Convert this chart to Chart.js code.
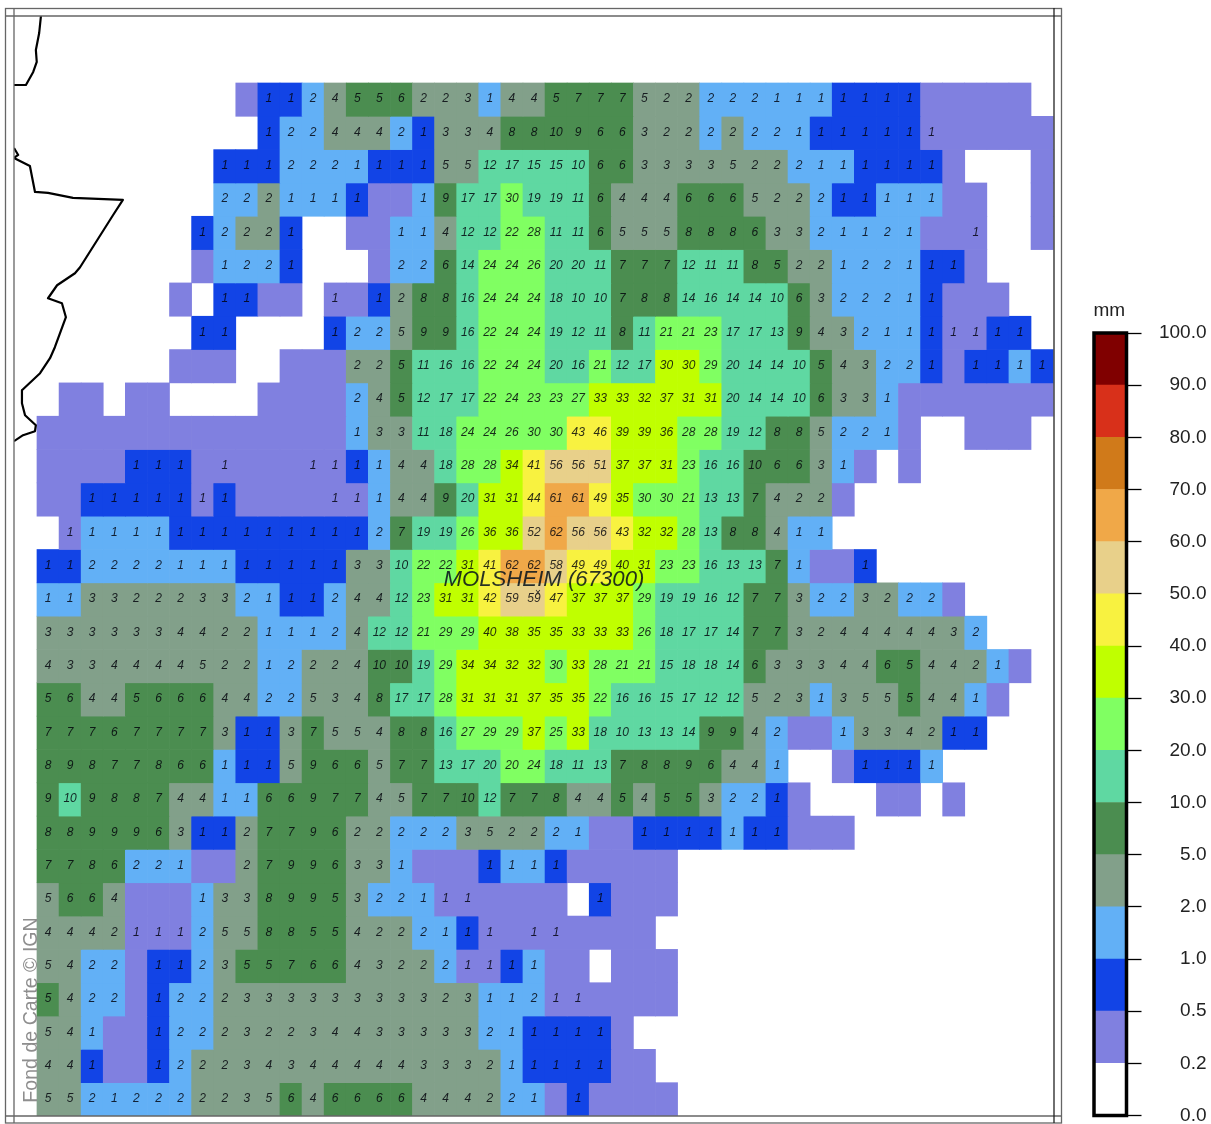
<!DOCTYPE html>
<html><head><meta charset="utf-8">
<style>
html,body{margin:0;padding:0;background:#fff;overflow:hidden}
canvas{position:absolute;top:0;display:block}
</style>
<script src="https://cdn.jsdelivr.net/npm/chart.js@4"></script>
</head><body>
<canvas id="map" width="1211" height="1124" style="left:0"></canvas>
<canvas id="bar" width="151" height="1124" style="left:1060px"></canvas>
<script>
const _ = null;
const legendLabels = ['0.0','0.2','0.5','1.0','2.0','5.0','10.0','20.0','30.0','40.0','50.0','60.0','70.0','80.0','90.0','100.0'];
const thresholds = [0,0.2,0.5,1,2,5,10,20,30,40,50,60,70,80,90,100];
const levelColors = ['#ffffff','#8080e0','#1244e6','#62b0f6','#82a08a','#4b8d50','#5fd8a2','#80ff62','#c0ff00','#f8f240','#e8d08a','#f0a848','#d07a1a','#d8301a','#800000'];

const r00=[_,_,_,_,_,_,_,_,_,.3,.8,.8,1.8,4,5.3,5.3,6,2.4,2.4,3,1.3,4,4,5.3,7,7,7,4.7,2.4,2.4,1.8,1.8,1.8,1.3,1.3,1.3,.8,.8,.8,.8,.3,.3,.3,.3,.3];
const r01=[_,_,_,_,_,_,_,_,_,_,.8,1.8,1.8,4,4,4,1.8,.8,3,3,4,8,8,9.7,9,6,6,3,2.4,2.4,1.8,2.4,1.8,1.8,1.3,.8,.8,.8,.8,.8,.5,.3,.3,.3,.3,.3];
const r02=[_,_,_,_,_,_,_,_,.8,.8,.8,1.8,1.8,1.8,1.3,.8,.8,.8,4.7,4.7,12,17,15,15,10.4,6,6,3,3,3,3,4.7,2.4,2.4,1.8,1.3,1.3,.8,.8,.8,.8,.3,_,_,_,.3];
const r03=[_,_,_,_,_,_,_,_,1.8,1.8,2.4,1.3,1.3,1.3,.8,.3,.3,1.3,9,17,17,29.6,19,19,11,6,4,4,4,6,6,6,4.7,2.4,2.4,1.8,.8,.8,1.3,1.3,1.3,.3,.3,_,_,.3];
const r04=[_,_,_,_,_,_,_,.8,1.8,2.4,2.4,.8,_,_,.3,.3,1.3,1.3,4,12,12,22,28,11,11,6,4.7,4.7,4.7,8,8,8,6,3,3,1.8,1.3,1.3,1.8,1.3,.3,.3,.5,_,_,.3];
const r05=[_,_,_,_,_,_,_,.3,1.3,1.8,1.8,.8,_,_,_,.3,1.8,1.8,6,14,24,24,26,19.6,19.6,11,7,7,7,12,11,11,8,5.3,2.4,2.4,1.3,1.8,1.8,1.3,.8,.8,.3];
const r06=[_,_,_,_,_,_,.3,_,.8,.8,.3,.3,_,.5,.3,.8,2.4,8,8,16,24,24,24,18,10.4,10.4,7,8,8,14,16,14,14,10.4,6,3,1.8,1.8,1.8,1.3,.8,.3,.3,.3];
const r07=[_,_,_,_,_,_,_,.8,.8,_,_,_,_,.8,1.8,1.8,4.7,9,9,16,22,24,24,19,12,11,8,11,21,21,23,17,17,13,9,4,3,1.8,1.3,1.3,.8,.5,.5,.8,.8];
const r08=[_,_,_,_,_,_,.3,.3,.3,_,_,.3,.3,.3,2.4,2.4,5.3,11,16,16,22,24,24,19.6,16,21,12,17,30.4,30.4,29,19.6,14,14,10.4,5.3,4,3,1.8,1.8,.8,.3,.8,.8,1.3,.8];
const r09=[_,.3,.3,_,.3,.3,_,_,_,_,.3,.3,.3,.3,1.8,4,5.3,12,17,17,22,24,23,23,27,33,33,32,37,31,31,19.6,14,14,10.4,6,3,3,1.3,.3,.3,.3,.3,.3,.3,.3];
const r10=[.3,.3,.3,.3,.3,.3,.3,.3,.3,.3,.3,.3,.3,.3,1.3,3,3,11,18,24,24,26,29.6,29.6,43,46,39,39,36,28,28,19,12,8,8,4.7,1.8,1.8,1.3,.3,_,_,.3,.3,.3];
const r11=[.3,.3,.3,.3,.8,.8,.8,.3,.5,.3,.3,.3,.5,.5,.8,1.3,4,4,18,28,28,34,41,56,56,51,37,37,31,23,16,16,9.7,6,6,3,1.3,.3,_,.3];
const r12=[.3,.3,.8,.8,.8,.8,.8,.5,.8,.3,.3,.3,.3,.5,.5,1.3,4,4,9,19.6,31,31,44,61,61,49,35,29.6,29.6,21,13,13,7,4,2.4,2.4,.3];
const r13=[_,.5,1.3,1.3,1.3,1.3,.8,.8,.8,.8,.8,.8,.8,.8,.8,1.8,7,19,19,26,36,36,52,62,56,56,43,32,32,28,13,8,8,4,1.3,1.3];
const r14=[.8,.8,1.8,1.8,1.8,1.8,1.3,1.3,1.3,.8,.8,.8,.8,.8,3,3,10.4,22,22,31,41,62,62,58,49,49,39.6,31,23,23,16,13,13,7,1.3,.3,.3,.8];
const r15=[1.3,1.3,3,3,2.4,2.4,2.4,3,3,1.8,1.3,.8,.8,1.8,4,4,12,23,31,31,42,59,59,47,37,37,37,29,19,19,16,12,7,7,3,1.8,1.8,3,2.4,1.8,1.8,.3];
const r16=[3,3,3,3,3,3,4,4,2.4,2.4,1.3,1.3,1.3,1.8,4,12,12,21,29,29,39.6,38,35,35,33,33,33,26,18,17,17,14,7,7,3,2.4,4,4,4,4,4,3,1.8];
const r17=[4,3,3,4,4,4,4,4.7,2.4,2.4,1.3,1.8,2.4,2.4,4,9.7,9.7,19,29,34,34,32,32,29.6,33,28,21,21,15,18,18,14,6,3,3,3,4,4,6,5.3,4,4,2.4,1.3,.3];
const r18=[5.3,6,4,4,5.3,6,6,6,4,4,1.8,1.8,4.7,3,4,8,17,17,28,31,31,31,37,35,35,22,16,16,15,17,12,12,4.7,2.4,3,1.3,3,4.7,4.7,5.3,4,4,1.3,.3];
const r19=[7,7,7,6,7,7,7,7,3,.8,.8,3,7,4.7,4.7,4,8,8,16,27,29,29,37,25,33,18,10.4,13,13,14,9,9,4,1.8,.3,.3,1.3,3,3,4,2.4,.8,.8];
const r20=[8,9,8,7,7,8,6,6,1.3,.8,.8,4.7,9,6,6,4.7,7,7,13,17,19.6,20.4,24,18,11,13,7,8,8,9,6,4,4,1.3,_,_,.3,.8,.8,.8,1.3];
const r21=[9,10.4,9,8,8,7,4,4,1.3,1.3,6,6,9,7,7,4,4.7,7,7,9.7,12,7,7,8,4,4,5.3,4,5.3,5.3,3,1.8,1.8,.8,.3,_,_,_,.3,.3,_,.3];
const r22=[8,8,9,9,9,6,3,.8,.8,2.4,7,7,9,6,2.4,2.4,1.8,1.8,1.8,3,4.7,2.4,2.4,1.8,1.3,.3,.3,.8,.8,.8,.8,1.3,.8,.8,.3,.3,.3];
const r23=[7,7,8,6,1.8,1.8,1.3,.3,.3,2.4,7,9,9,6,3,3,1.3,.3,.3,.3,.8,1.3,1.3,.8,.3,.3,.3,.3,.3];
const r24=[4.7,6,6,4,.3,.3,.3,1.3,3,3,8,9,9,5.3,3,1.8,1.8,1.3,.5,.5,.3,.3,.3,.3,_,.8,.3,.3,.3];
const r25=[4,4,4,2.4,.5,.5,.5,1.8,4.7,4.7,8,8,5.3,5.3,4,2.4,2.4,1.8,1.3,.8,.5,.3,.5,.5,.3,.3,.3,.3];
const r26=[4.7,4,1.8,1.8,.3,.8,.8,1.8,3,5.3,5.3,7,6,6,4,3,2.4,2.4,1.8,.5,.5,.8,1.3,.3,.3,_,.3,.3,.3];
const r27=[5.3,4,1.8,1.8,.3,.8,1.8,1.8,2.4,3,3,3,3,3,3,3,3,3,2.4,3,1.3,1.3,1.8,.5,.5,.3,.3,.3,.3];
const r28=[4.7,4,1.3,.3,.3,.8,1.8,1.8,2.4,3,2.4,2.4,3,4,4,3,3,3,3,3,1.8,1.3,.8,.8,.8,.8,.3];
const r29=[4,4,.8,.3,.3,.8,1.8,2.4,2.4,3,4,3,4,4,4,4,4,3,3,3,2.4,1.3,.8,.8,.8,.8,.3,.3];
const r30=[4.7,4.7,1.8,1.3,1.8,1.8,1.8,2.4,2.4,3,4.7,6,4,6,6,6,6,4,4,4,2.4,1.8,1.3,.3,.8,.3,.3,.3,.3];
const rows=[r00,r01,r02,r03,r04,r05,r06,r07,r08,r09,r10,r11,r12,r13,r14,r15,r16,r17,r18,r19,r20,r21,r22,r23,r24,r25,r26,r27,r28,r29,r30];

// Coast line in grid units (column, row)
const coastNorth=[[0.18,-2.01],[0.10,-1.50],[-0.05,-0.99],[-0.01,-0.63],[-0.17,-0.33],[-0.50,0.06],[-1.04,0.06]];
const coastSouth=[[-1.04,1.95],[-0.85,2.16],[-1.04,2.25],[-0.32,2.49],[-0.09,3.27],[0.50,3.30],[1.63,3.45],[3.89,3.51],[3.44,3.97],[1.95,5.53],[1.72,5.71],[0.91,6.07],[0.50,6.46],[1.13,6.61],[1.31,7.03],[0.81,7.93],[0.59,8.26],[0.14,8.71],[-0.68,9.22],[-0.68,9.61],[-0.54,9.97],[-0.05,10.27],[-0.09,10.45],[-0.63,10.57],[-1.04,10.75]];
const placeName='MOLSHEIM (67300)';
const placePoint=[22.95,14.9];
const markerPoint=[22.68,15.3];
const credit='Fond de Carte © IGN';
const unit='mm';

function colorOf(v){
  for(let i=1;i<thresholds.length;i++){ if(v<=thresholds[i]) return levelColors[i-1]; }
  return levelColors[levelColors.length-1];
}
Chart.defaults.animation=false;
Chart.defaults.font.family='"Liberation Sans", Arial, sans-serif';

const rowDatasets=rows.map((row,r)=>{
  const data=[];
  row.forEach((v,c)=>{ if(v!==null&&v!==undefined) data.push({x:c+0.5,y:[r,r+1],v}); });
  return {type:'bar',data,backgroundColor:data.map(d=>colorOf(d.v)),borderWidth:0,
          barPercentage:1,categoryPercentage:1,grouped:false,order:2};
});
const coastSet=pts=>({type:'line',data:pts.map(p=>({x:p[0],y:p[1]})),borderColor:'#000',borderWidth:2.2,
  pointRadius:0,tension:0,fill:false,order:0,borderJoinStyle:'round'});

const overlay={
  id:'overlay',
  afterDatasetsDraw(chart){
    const {ctx,scales:{x,y}}=chart;
    ctx.save();
    ctx.font='italic 12px "Liberation Sans"';
    ctx.textAlign='center';ctx.textBaseline='middle';
    ctx.fillStyle='rgba(0,0,10,.82)';
    rows.forEach((row,r)=>row.forEach((v,c)=>{
      if(v===null||v===undefined) return;
      const n=Math.round(v);
      if(n>0) ctx.fillText(String(n),x.getPixelForValue(c+0.5),y.getPixelForValue(r+0.5)-0.5);
    }));
    // place name
    ctx.font='italic 22.2px "Liberation Sans"';
    ctx.fillStyle='rgba(10,20,30,.88)';
    ctx.fillText(placeName,x.getPixelForValue(placePoint[0]),y.getPixelForValue(placePoint[1]));
    ctx.font='10px "Liberation Sans"';
    ctx.fillStyle='#222';
    ctx.fillText('×',x.getPixelForValue(markerPoint[0]),y.getPixelForValue(markerPoint[1]));
    // credit
    ctx.save();
    ctx.translate(x.getPixelForValue(-0.24),y.getPixelForValue(30.6));
    ctx.rotate(-Math.PI/2);
    ctx.textAlign='left';
    ctx.font='19.6px "Liberation Sans"';
    ctx.fillStyle='#8e8e8e';
    ctx.fillText(credit,0,0);
    ctx.restore();
    ctx.restore();
  },
  afterDraw(chart){
    const {ctx,chartArea:a}=chart;
    ctx.save();
    ctx.strokeStyle='#666';ctx.lineWidth=1.3;
    ctx.strokeRect(5.5,8.5,1056,1114.5);
    ctx.beginPath();
    ctx.moveTo(a.left,8);ctx.lineTo(a.left,1123);
    ctx.moveTo(5,a.top);ctx.lineTo(1061,a.top);
    ctx.moveTo(5,a.bottom);ctx.lineTo(1061,a.bottom);
    ctx.stroke();
    ctx.strokeStyle='#222';
    ctx.beginPath();ctx.moveTo(a.right,8);ctx.lineTo(a.right,1123);ctx.stroke();
    ctx.restore();
  }
};

new Chart(document.getElementById('map'),{
  data:{datasets:[...rowDatasets,coastSet(coastNorth),coastSet(coastSouth)]},
  options:{
    responsive:false,devicePixelRatio:1,
    layout:{padding:{left:14,right:157,top:16,bottom:8}},
    plugins:{legend:{display:false},tooltip:{enabled:false}},
    scales:{
      x:{type:'linear',min:-1.04,max:46.04,display:false,offset:false},
      y:{type:'linear',min:-2.01,max:31,reverse:true,display:false}
    }
  },
  plugins:[overlay]
});

const legendSets=levelColors.map((c,i)=>({data:[[i,i+1]],backgroundColor:c,borderWidth:0,
  barPercentage:1,categoryPercentage:1,grouped:false}));
const legendFrame={
  id:'legendFrame',
  afterDraw(chart){
    const {ctx,chartArea:a}=chart;
    ctx.save();
    ctx.strokeStyle='#000';ctx.lineWidth=3.5;
    ctx.strokeRect(a.left,a.top,a.right-a.left,a.bottom-a.top);
    ctx.font='19px "Liberation Sans"';
    ctx.fillStyle='#222';ctx.textAlign='center';ctx.textBaseline='middle';
    ctx.fillText(unit,(a.left+a.right)/2-1,a.top-22);
    ctx.restore();
  }
};
new Chart(document.getElementById('bar'),{
  type:'bar',
  data:{labels:[''],datasets:legendSets},
  options:{
    responsive:false,devicePixelRatio:1,
    layout:{padding:{left:34,right:4.5,top:333,bottom:8.5}},
    plugins:{legend:{display:false},tooltip:{enabled:false}},
    scales:{
      x:{display:false},
      y:{type:'linear',position:'right',min:0,max:15,
        afterFit(s){s.width=80;},
        border:{display:false},
        grid:{drawOnChartArea:false,drawTicks:true,tickLength:15,tickColor:'#000',tickWidth:1.3},
        ticks:{stepSize:1,autoSkip:false,padding:0,crossAlign:'far',color:'#222',
          font:{size:19,lineHeight:0.8},
          callback:(v)=>legendLabels[v]}
      }
    }
  },
  plugins:[legendFrame]
});
</script>
</body></html>
